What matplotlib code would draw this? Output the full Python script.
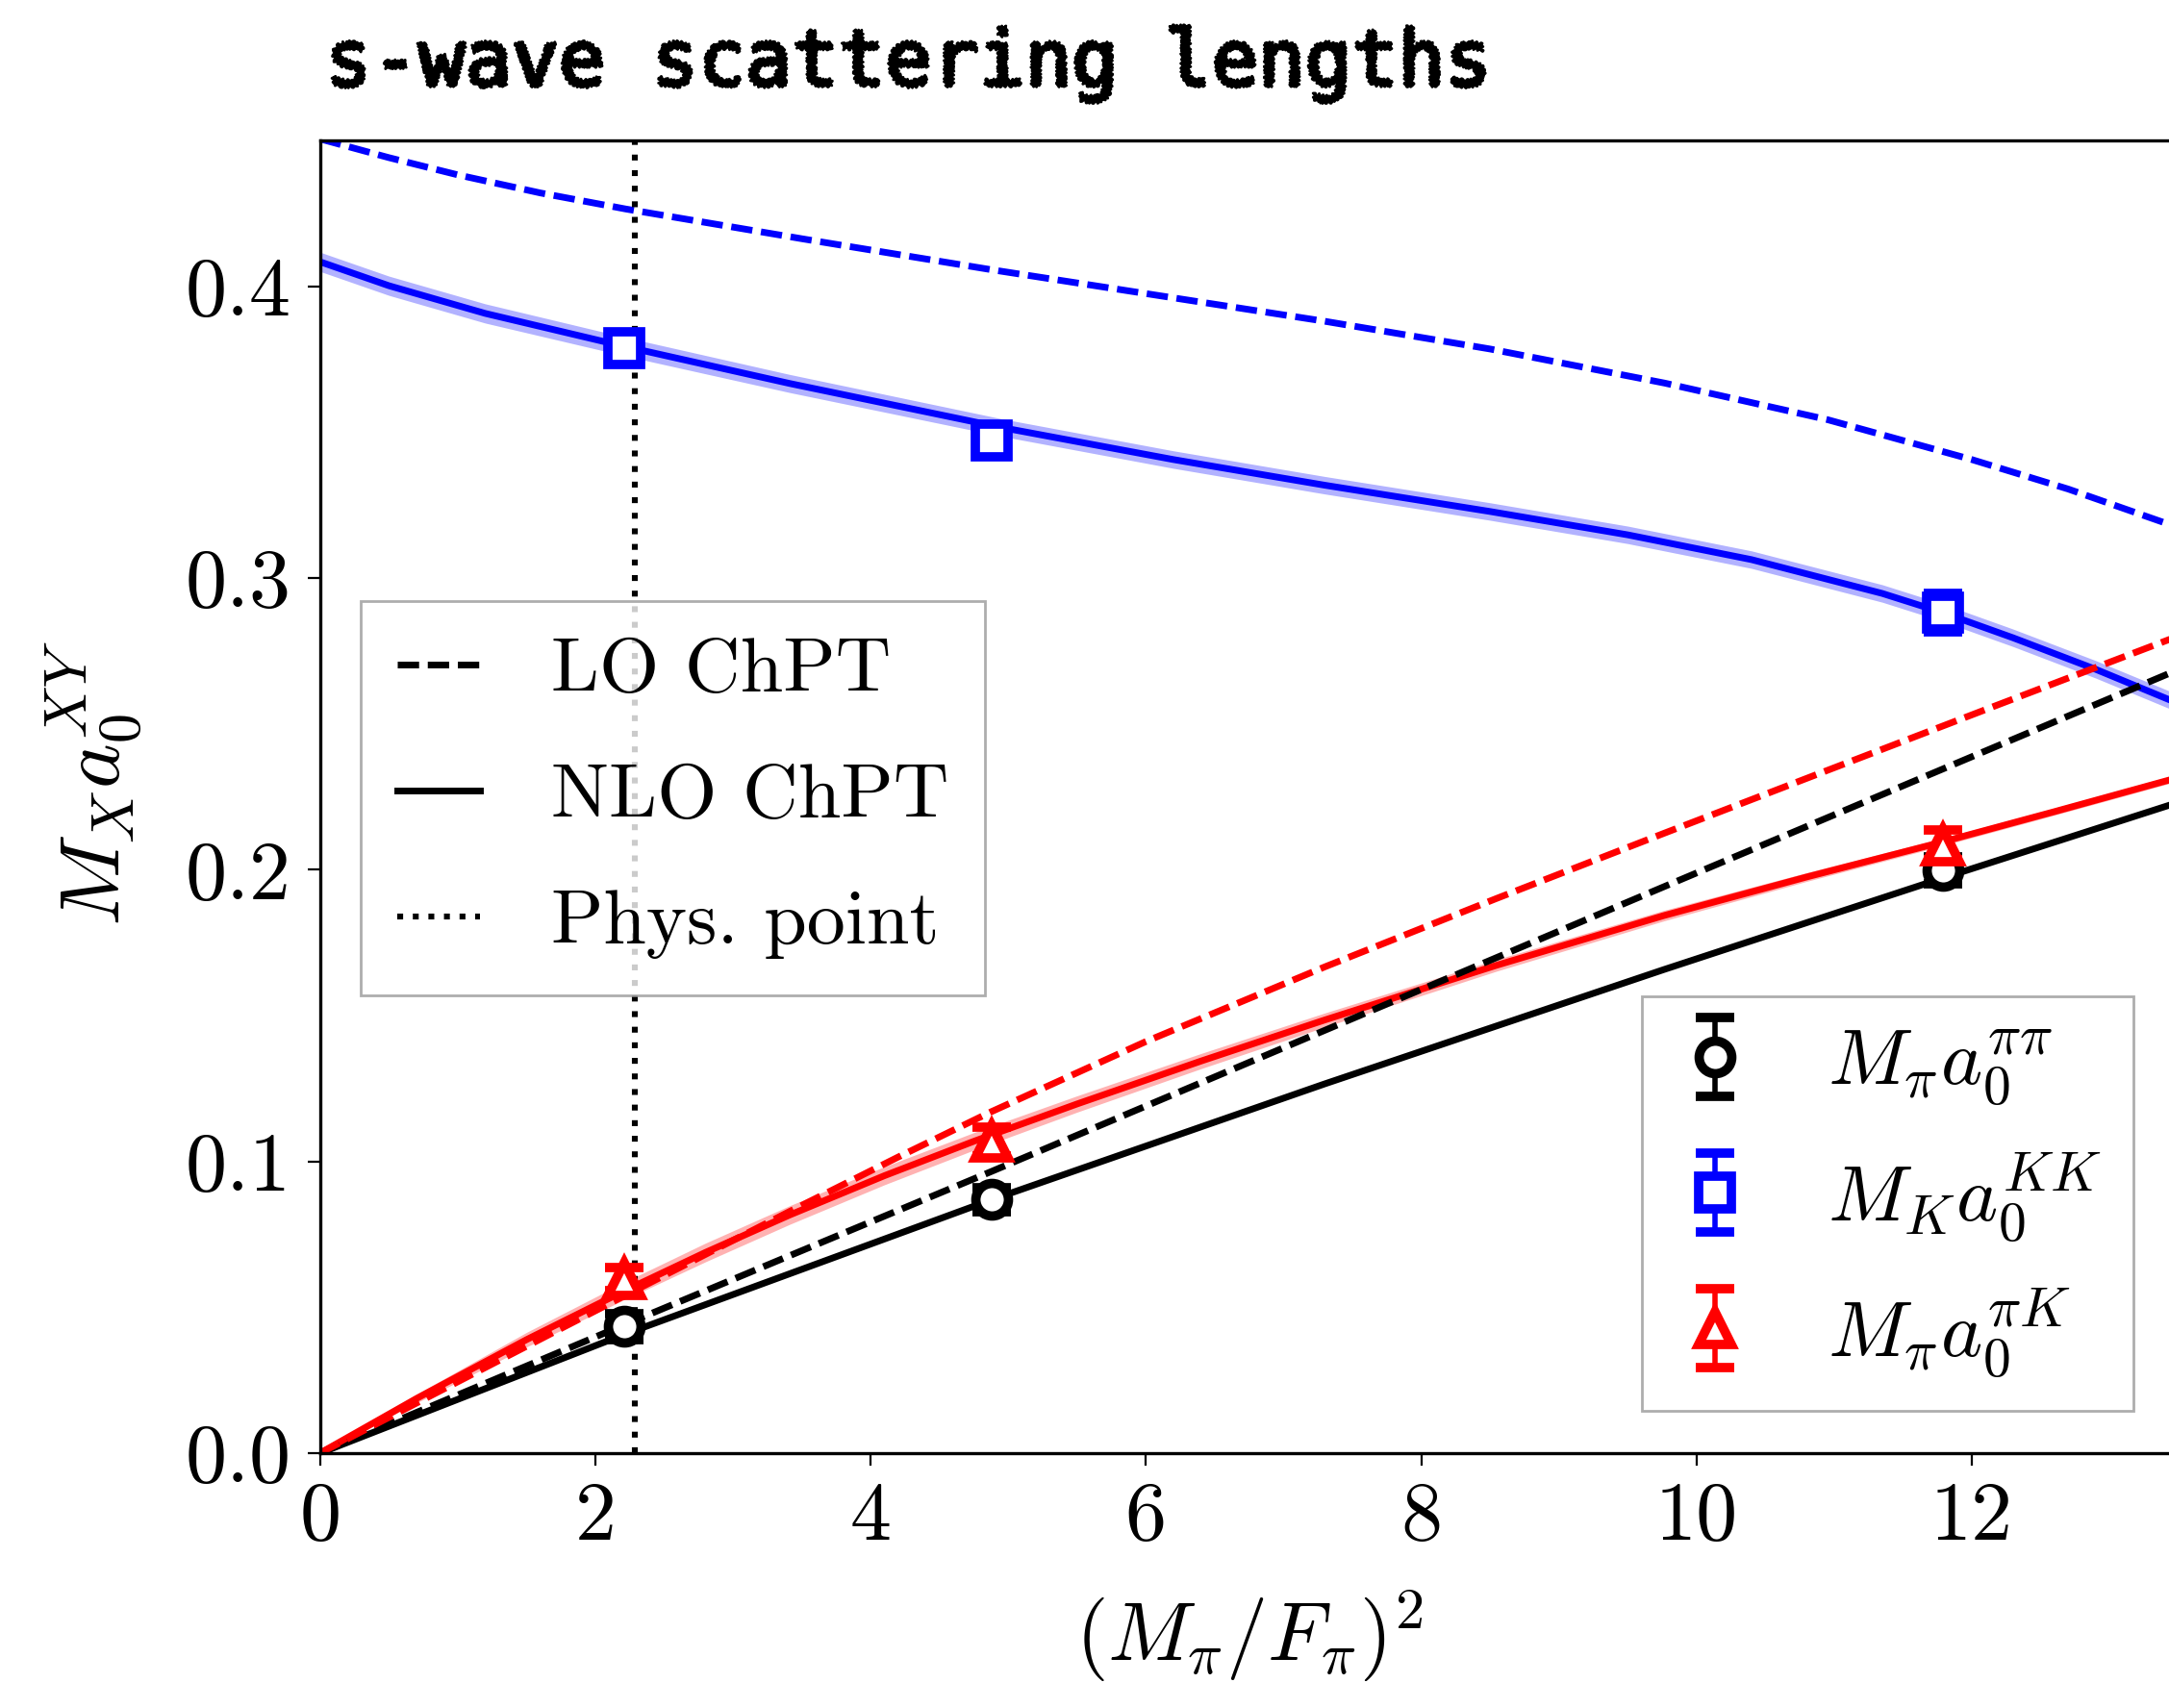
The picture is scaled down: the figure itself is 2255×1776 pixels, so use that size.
import numpy as np
import matplotlib
matplotlib.use("Agg")
import matplotlib.pyplot as plt
from matplotlib.lines import Line2D
from matplotlib.patheffects import AbstractPathEffect

# ---------------- data ----------------
x_data = [2.207, 4.877, 11.79]
pipi = [0.0434, 0.0869, 0.1998]
pipi_err = [0.0045, 0.0040, 0.0045]
kk = [0.3787, 0.3471, 0.2882]
kk_err = [0.0030, 0.0040, 0.0065]
pik = [0.0596, 0.1068, 0.2085]
pik_err = [0.0040, 0.0050, 0.0050]

phys_point = 2.29

# LO ChPT curves
lo_pipi_x = [0.0, 2.21, 4.875, 9.765, 13.5]
lo_pipi_y = [0.0, 0.0440, 0.0965, 0.1942, 0.2686]
lo_kk_x = [0.0, 0.5, 1.0, 1.6, 2.22, 3.5, 4.875, 6.0, 7.3, 8.5, 9.77, 10.95, 12.0, 12.7, 13.5]
lo_kk_y = [0.4505, 0.4441, 0.4382, 0.4320, 0.4265, 0.4163, 0.4057, 0.3975, 0.3880, 0.3785,
           0.3668, 0.3543, 0.3406, 0.3305, 0.3173]
lo_pik_x = [0.0, 0.76, 1.54, 2.21, 3.41, 4.2, 4.875, 6.0, 7.3, 8.545, 9.765, 10.97, 12.2, 13.5]
lo_pik_y = [0.0, 0.0186, 0.0376, 0.0539, 0.0828, 0.1015, 0.1170, 0.1411, 0.1667, 0.1901, 0.2125, 0.2344, 0.2567, 0.2801]

# NLO ChPT curves with their uncertainty half-widths
nlo_pipi_x = [0.0, 2.21, 4.875, 7.3, 9.765, 11.78, 13.5]
nlo_pipi_y = [0.0, 0.0407, 0.0868, 0.1266, 0.1658, 0.1970, 0.2231]
nlo_pipi_band = [0.0, 0.0003, 0.0004, 0.0005, 0.0005, 0.0006, 0.0006]
nlo_kk_x = [0.0, 0.5, 1.2, 2.21, 3.41, 4.95, 6.2, 7.3, 8.5, 9.5, 10.4, 11.35, 11.785, 12.3, 12.9, 13.5]
nlo_kk_y = [0.4084, 0.4002, 0.3907, 0.3794, 0.3667, 0.3516, 0.3406, 0.3318, 0.3228, 0.3148,
            0.3063, 0.2947, 0.2882, 0.2795, 0.2687, 0.2570]
nlo_kk_band = [0.0033, 0.0033, 0.0033, 0.0032, 0.0031, 0.0030, 0.0030, 0.0030, 0.0030, 0.0030,
               0.0030, 0.0030, 0.0030, 0.0030, 0.0030, 0.0030]
nlo_pik_x = [0.0, 0.7, 1.5, 2.21, 2.8, 3.41, 4.1, 4.75, 5.5, 6.4, 7.3, 8.545, 9.765, 10.8, 11.785, 12.6, 13.5]
nlo_pik_y = [0.0, 0.0187, 0.0389, 0.0556, 0.0688, 0.0816, 0.0951, 0.1069, 0.1197, 0.1344, 0.1485,
             0.1672, 0.1843, 0.1975, 0.2095, 0.2199, 0.2316]
nlo_pik_band = [0.0, 0.0015, 0.0025, 0.0030, 0.0032, 0.0032, 0.0031, 0.0030, 0.0028, 0.0026, 0.0024,
                0.0020, 0.0018, 0.0015, 0.0013, 0.0012, 0.0012]

xticks = [0, 2, 4, 6, 8, 10, 12]
xtick_labels = ["0", "2", "4", "6", "8", "10", "12"]
yticks = [0.0, 0.1, 0.2, 0.3, 0.4]
ytick_labels = ["0.0", "0.1", "0.2", "0.3", "0.4"]

# ---------------- style ----------------
plt.rcParams.update({
    "font.family": "serif",
    "font.serif": ["cmr10"],
    "mathtext.fontset": "cm",
    "axes.formatter.use_mathtext": True,
    "axes.unicode_minus": False,
})

FS = 31
LFS = 28.8
LW = 2.5
DASH = (3.2, 1.3)


class Sketchy(AbstractPathEffect):
    """Hand-drawn looking stroke for the title text."""

    def __init__(self, lw=1.0, scale=1.6, length=4.0, randomness=2.5):
        super().__init__()
        self.lw = lw
        self.scale = scale
        self.length = length
        self.randomness = randomness

    def draw_path(self, renderer, gc, tpath, affine, rgbFace=None):
        gc0 = renderer.new_gc()
        gc0.copy_properties(gc)
        gc0.set_linewidth(self.lw)
        gc0.set_foreground("black")
        gc0.set_sketch_params(self.scale, self.length, self.randomness)
        renderer.draw_path(gc0, tpath, affine, rgbFace)
        gc0.restore()


fig = plt.figure(figsize=(11.275, 8.88), dpi=200)
ax = fig.add_axes([0.14754, 0.14921, 0.85672, 0.76858])

# bands
for xs, ys, bw, col in [(nlo_pipi_x, nlo_pipi_y, nlo_pipi_band, "black"),
                        (nlo_kk_x, nlo_kk_y, nlo_kk_band, "blue"),
                        (nlo_pik_x, nlo_pik_y, nlo_pik_band, "red")]:
    ys = np.asarray(ys)
    bw = np.asarray(bw)
    ax.fill_between(xs, ys - bw, ys + bw, color=col, alpha=0.3, lw=0, zorder=1)

# NLO lines
ax.plot(nlo_pipi_x, nlo_pipi_y, color="black", lw=LW, zorder=2)
ax.plot(nlo_kk_x, nlo_kk_y, color="blue", lw=LW, zorder=2)
ax.plot(nlo_pik_x, nlo_pik_y, color="red", lw=LW, zorder=2)
# LO lines
for xs, ys, col in [(lo_pipi_x, lo_pipi_y, "black"),
                    (lo_kk_x, lo_kk_y, "blue"),
                    (lo_pik_x, lo_pik_y, "red")]:
    ln, = ax.plot(xs, ys, color=col, lw=LW, ls="--", zorder=2)
    ln.set_dashes(DASH)

ax.axvline(phys_point, color="black", lw=2.2, ls=":", zorder=3)

ebkw = dict(mfc="white", ms=12.2, mew=3.5, capsize=7.2, capthick=3.2,
            elinewidth=2.0, ls="none", zorder=6)
e1 = ax.errorbar(x_data, pipi, yerr=pipi_err, marker="o", color="black", mec="black", **ebkw)
e2 = ax.errorbar(x_data, kk, yerr=kk_err, marker="s", color="blue", mec="blue", **ebkw)
e3 = ax.errorbar(x_data, pik, yerr=pik_err, marker="^", color="red", mec="red", **ebkw)

ax.set_xlim(0, 13.5)
ax.set_ylim(0, 0.45)
ax.set_xticks(xticks)
ax.set_xticklabels(xtick_labels)
ax.set_yticks(yticks)
ax.set_yticklabels(ytick_labels)
ax.tick_params(axis="both", which="major", direction="out", length=4.7, width=0.8,
               labelsize=FS, pad=6, top=False, right=False)
for sp in ax.spines.values():
    sp.set_linewidth(1.2)

ax.set_xlabel(r"$(M_\pi/F_\pi)^2$", fontsize=FS)
ax.xaxis.set_label_coords(0.5, -0.1026)
ax.set_ylabel(r"$M_X a_0^{XY}$", fontsize=FS + 1)
ax.yaxis.set_label_coords(-0.094, 0.51)

# legend 1: line styles
h1 = [Line2D([], [], color="black", lw=LW, ls="--", dashes=DASH),
      Line2D([], [], color="black", lw=LW, ls="-"),
      Line2D([], [], color="black", lw=2.2, ls=":")]
leg1 = ax.legend(h1, ["LO ChPT", "NLO ChPT", "Phys. point"], loc="upper left",
                 bbox_to_anchor=(0.1663, 0.6481), bbox_transform=fig.transFigure,
                 borderaxespad=0, handlelength=1.08, handletextpad=0.92,
                 labelspacing=0.74, borderpad=0.47,
                 fancybox=False, edgecolor="0.6", framealpha=0.8, fontsize=LFS)
leg1.get_frame().set_linewidth(1.0)
ax.add_artist(leg1)

leg2 = ax.legend([e1, e2, e3],
                 [r"$M_\pi a_0^{\pi\pi}$", r"$M_K a_0^{KK}$", r"$M_\pi a_0^{\pi K}$"],
                 loc="upper left", bbox_to_anchor=(0.7570, 0.4167),
                 bbox_transform=fig.transFigure, borderaxespad=0,
                 handlelength=1.05, handletextpad=0.9, labelspacing=0.52,
                 fancybox=False, edgecolor="0.6", framealpha=0.8, fontsize=29.6)
leg2.get_frame().set_linewidth(1.0)

fig.text(0.15, 0.9499, "s-wave scattering lengths", fontsize=29,
         family="DejaVu Sans Mono", va="baseline", ha="left",
         path_effects=[Sketchy()])

fig.savefig("out.png", dpi=200)
